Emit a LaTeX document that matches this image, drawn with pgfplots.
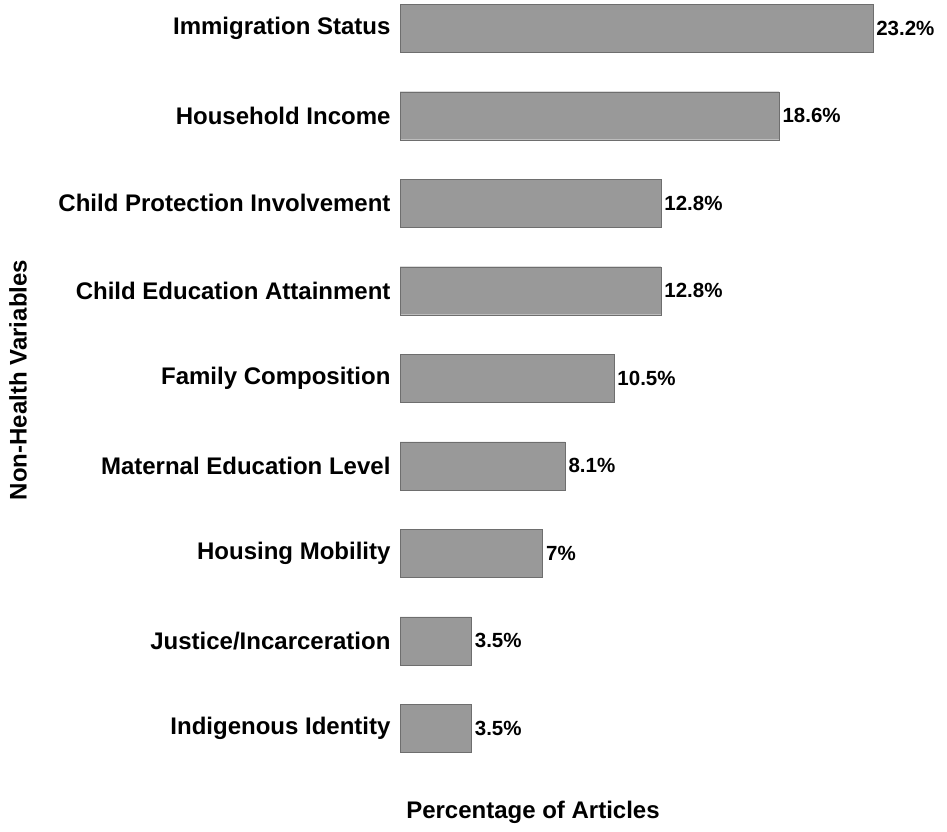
\documentclass[border=0pt]{standalone}
\usepackage{pgfplots}
\pgfplotsset{compat=1.18}
\usepackage{fontspec}
\setmainfont{Liberation Sans}
\definecolor{barfill}{HTML}{999999}
\definecolor{baredge}{HTML}{6E6E6E}
\begin{document}
\begin{tikzpicture}[x=1pt,y=1pt]
\path[use as bounding box] (0,0) rectangle (947,831);
\begin{axis}[at={(400pt,59pt)}, anchor=south west,
  scale only axis, width=540pt, height=770pt,
  xmin=0, xmax=26.5, ymin=-0.5, ymax=8.3,
  axis line style={draw=none}, xtick=\empty,
  ytick={0,...,8}, major tick length=0pt,
  yticklabels={Indigenous Identity,Justice/Incarceration,Housing Mobility,Maternal Education Level,Family Composition,Child Education Attainment,Child Protection Involvement,Household Income,Immigration Status},
  yticklabel style={font=\fontsize{24}{28}\selectfont\bfseries, xshift=-6pt},
  xbar, bar width=48pt,
  nodes near coords={\pgfplotspointmeta\%},
  point meta=explicit symbolic,
  nodes near coords style={font=\fontsize{20.5}{24}\selectfont\bfseries, anchor=west, xshift=0pt},
]
\addplot[fill=barfill, draw=baredge] coordinates {
(3.5,0) [3.5] (3.5,1) [3.5] (7,2) [7] (8.1,3) [8.1] (10.5,4) [10.5]
(12.8,5) [12.8] (12.8,6) [12.8] (18.6,7) [18.6] (23.2,8) [23.2]};
\end{axis}
\node[font=\fontsize{24}{28}\selectfont\bfseries] at (533,19) {Percentage of Articles};
\node[font=\fontsize{24}{28}\selectfont\bfseries, rotate=90] at (18,451) {Non-Health Variables};
\end{tikzpicture}
\end{document}
